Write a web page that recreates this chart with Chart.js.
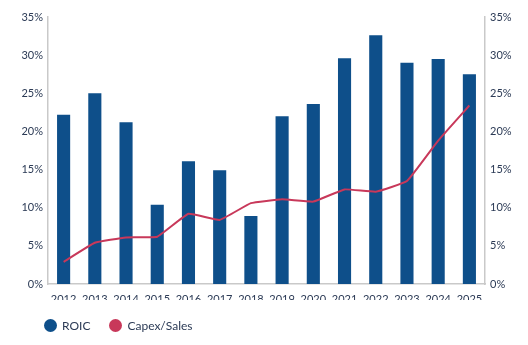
<!DOCTYPE html>
<html>
<head>
<meta charset="utf-8">
<script src="https://cdn.jsdelivr.net/npm/chart.js@4"></script>
<style>
  html, body { margin: 0; padding: 0; background: #fff; }
  #wrap { position: relative; width: 528px; height: 345px; }
  .legend { position: absolute; left: 44px; top: 318px; display: flex; align-items: center;
            font: 12px Lato, "Open Sans", sans-serif; color: #2b3a55; }
  .legend span.item { display: flex; align-items: center; margin-right: 19px; }
  .legend i { display: inline-block; width: 13px; height: 13px; border-radius: 50%; margin-right: 5px; }
</style>
</head>
<body>
<div id="wrap">
  <canvas id="roicChart" width="528" height="345"></canvas>
  <div class="legend" id="legend"></div>
</div>
<script>
// ---- données ----
const years = ['2012','2013','2014','2015','2016','2017','2018','2019','2020','2021','2022','2023','2024','2025'];
const roic = [22.2, 25.0, 21.2, 10.4, 16.1, 14.9, 8.9, 22.0, 23.6, 29.6, 32.6, 29.0, 29.5, 27.5];
const capexSales = [2.9, 5.4, 6.1, 6.2, 9.2, 8.4, 10.6, 11.1, 10.8, 12.4, 12.1, 13.5, 18.8, 23.4];
const pctTicks = [0, 5, 10, 15, 20, 25, 30, 35];

const navy = '#0e4f8a';
const crimson = '#c8385a';
const textColor = '#2b3a55';
const axisGrey = '#c9c9c9';

const fontBase = { family: 'Lato, "Open Sans", sans-serif', size: 11 };

// axe % commun (gauche et droite)
function pctAxis(position, width) {
    return {
        position: position,
        min: pctTicks[0],
        max: pctTicks[pctTicks.length - 1],
        afterBuildTicks: s => { s.ticks = pctTicks.map(v => ({ value: v })); },
        afterFit: s => { s.width = width; },
        grid: { display: false, drawTicks: false },
        border: { display: true, color: axisGrey, width: 1.5 },
        ticks: { padding: 5, color: textColor, font: fontBase, callback: v => v + '%' }
    };
}

const chart = new Chart(document.getElementById('roicChart').getContext('2d'), {
    type: 'bar',
    data: {
        labels: years,
        datasets: [
            {
                label: 'ROIC',
                data: roic,
                backgroundColor: navy,
                barPercentage: 0.42,
                categoryPercentage: 1,
                yAxisID: 'y',
                order: 1
            },
            {
                type: 'line',
                label: 'Capex/Sales',
                data: capexSales,
                borderColor: crimson,
                backgroundColor: crimson,
                borderWidth: 2,
                pointRadius: 0,
                tension: 0.1,
                yAxisID: 'y',
                order: 0
            }
        ]
    },
    options: {
        responsive: false,
        animation: false,
        layout: { padding: { left: 0, right: 0, top: 17, bottom: 45 } },
        plugins: {
            tooltip: { enabled: false },
            legend: { display: false }
        },
        scales: {
            x: {
                afterFit: s => { s.height = 16; },
                grid: { display: false, drawTicks: false },
                border: { display: true, color: axisGrey, width: 1.5 },
                ticks: { padding: 9, color: textColor, font: fontBase, maxRotation: 0, autoSkip: false }
            },
            y: pctAxis('left', 48),
            y1: pctAxis('right', 43)
        }
    }
});

// ---- légende (ordre des datasets) ----
document.getElementById('legend').innerHTML = chart.data.datasets.map(ds =>
    '<span class="item"><i style="background:' + ds.backgroundColor + '"></i>' + ds.label + '</span>'
).join('');
</script>
</body>
</html>
